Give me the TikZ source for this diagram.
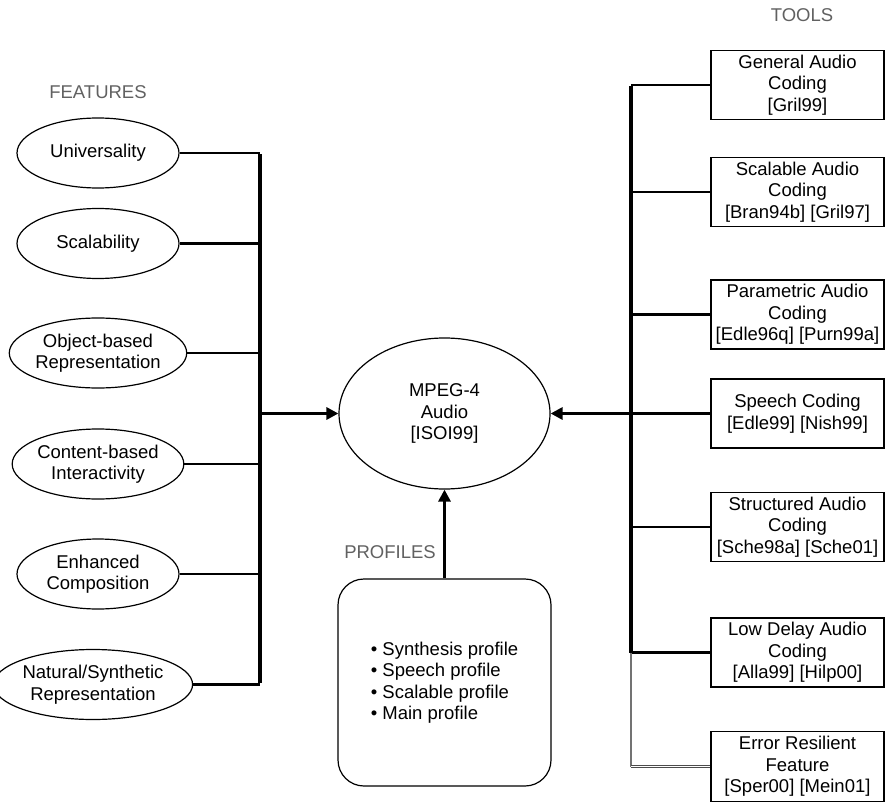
\documentclass[tikz,border=0pt]{standalone}
\usepackage{fontspec}
\setmainfont{Liberation Sans}
\usetikzlibrary{shapes.geometric,arrows.meta}
\begin{document}
\begin{tikzpicture}[x=1pt,y=-1pt,
  every node/.style={font=\fontsize{18.5}{21.5}\selectfont, inner sep=0pt},
  feat/.style={draw, line width=1.2pt, ellipse, align=center, minimum width=162pt, minimum height=70pt},
  tool/.style={draw, line width=1.2pt, rectangle, align=center, minimum width=173pt, minimum height=69pt},
  lbl/.style={text=black!62},
  branch/.style={line width=2.5pt},
  bus/.style={line width=3.3pt},
  arr/.style={line width=3.3pt, -{Triangle[length=12pt,width=12pt]}}
]
\useasboundingbox (0,0) rectangle (885,802);

% labels
\node[lbl] (lf) at (98,92) {FEATURES};
\node[lbl] (lt) at (802,15) {TOOLS};
\node[lbl] (lp) at (390,552) {PROFILES};

% features
\node[feat] (f1) at (98,153) {Universality};
\node[feat] (f2) at (98,243.5) {Scalability};
\node[feat] (f3) at (98,353) {Object-based\\Representation};
\node[feat] (f4) at (98,464) {Content-based\\Interactivity};
\node[feat] (f5) at (98,574) {Enhanced\\Composition};
\node[feat, minimum width=172pt] (f6) at (93,684.5) {Natural/Synthetic\\Representation};

% center
\node[draw, line width=1.2pt, ellipse, align=center, minimum width=211pt, minimum height=151pt] (mp) at (444.5,413.5) {MPEG-4\\Audio\\{[ISOI99]}};

% profiles
\node[draw, line width=1.2pt, rounded corners=26pt, align=left, minimum width=213pt, minimum height=207pt] (pr) at (444.5,682.5)
  {• Synthesis profile\\• Speech profile\\• Scalable profile\\• Main profile};

% tools
\node[tool] (t1) at (797.5,85) {General Audio\\Coding\\{[Gril99]}};
\node[tool] (t2) at (797.5,192) {Scalable Audio\\Coding\\{[Bran94b] [Gril97]}};
\node[tool] (t3) at (797.5,314.5) {Parametric Audio\\Coding\\{[Edle96q] [Purn99a]}};
\node[tool] (t4) at (797.5,413.5) {Speech Coding\\{[Edle99] [Nish99]}};
\node[tool] (t5) at (797.5,527) {Structured Audio\\Coding\\{[Sche98a] [Sche01]}};
\node[tool] (t6) at (797.5,652.5) {Low Delay Audio\\Coding\\{[Alla99] [Hilp00]}};
\node[tool, minimum height=70pt] (t7) at (797.5,766.5) {Error Resilient\\Feature\\{[Sper00] [Mein01]}};

% left bus
\coordinate (bl) at (260,413.5);
\foreach \n in {f1,f2,f3,f4,f5,f6}
  \draw[branch] (\n.east) -- (\n.east -| bl);
\draw[bus] ([yshift=-1.2pt]f1.east -| bl) -- ([yshift=1.2pt]f6.east -| bl);
\draw[arr] (bl) -- (mp.west);

% right bus
\coordinate (br) at (631,413.5);
\foreach \n in {t1,t2,t3,t4,t5,t6}
  \draw[branch] (\n.west -| br) -- (\n.west);
\draw[bus] ([yshift=-1.2pt]t1.west -| br) -- (t6.west -| br);
\draw[line width=2.8pt, black!55] (t6.west -| br) -- (t7.west -| br);
\draw[double, double distance=1.2pt, line width=0.8pt, black!70] (t7.west -| br) -- (t7.west);
\draw[arr] (br) -- (mp.east);

% profiles arrow
\draw[arr] (pr.north) -- (mp.south);
\end{tikzpicture}
\end{document}
